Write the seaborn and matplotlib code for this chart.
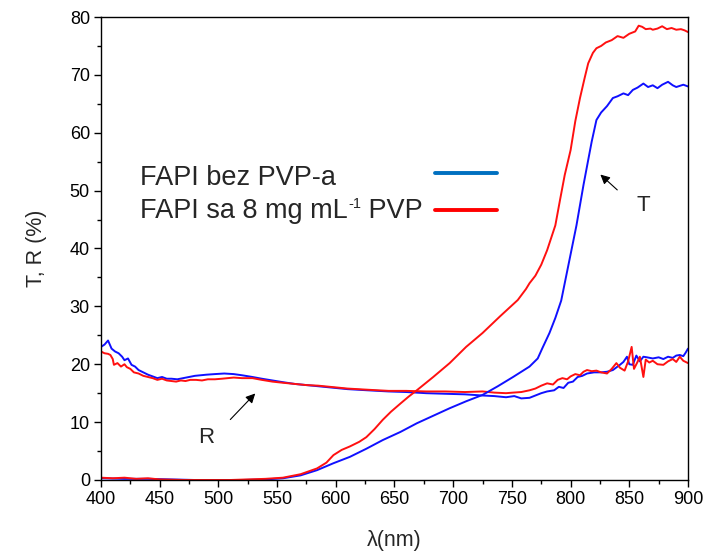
import numpy as np
import pandas as pd
import seaborn as sns
import matplotlib
matplotlib.use("Agg")
import matplotlib.pyplot as plt
from matplotlib.lines import Line2D
from matplotlib.ticker import MultipleLocator

# ---------------- data ----------------
wl_T_blue = [400, 420, 440, 460, 480, 500, 520, 540, 555, 570, 584, 598, 612, 626, 640, 655,
             669, 683, 697, 711, 725, 738, 751, 765, 772, 776, 782, 787, 792, 798, 805, 811,
             815, 818, 822, 826, 831, 836, 840, 845, 849, 853, 857, 862, 866, 870, 874, 878,
             883, 887, 890, 893, 896, 900]
T_blue = [0.3, 0.2, 0.2, 0.1, 0.0, 0.0, 0.0, 0.1, 0.3, 0.8, 1.7, 2.9, 4.0, 5.4, 6.9, 8.3,
          9.8, 11.1, 12.4, 13.6, 14.7, 16.2, 17.8, 19.6, 21.0, 22.8, 25.4, 28.0, 31.0, 37.0, 44.0, 51.0,
          55.3, 58.5, 62.2, 63.5, 64.6, 66.0, 66.3, 66.8, 66.5, 67.4, 67.8, 68.5, 67.9, 68.2, 67.7, 68.3,
          68.8, 68.2, 67.9, 68.1, 68.3, 68.0]

wl_T_red = [400, 410, 420, 430, 440, 450, 470, 490, 510, 525, 540, 555, 570, 584, 592, 598,
            605, 612, 620, 626, 633, 640, 647, 655, 662, 669, 683, 697, 711, 725, 740, 755,
            762, 765, 770, 775, 780, 787, 791, 795, 800, 804, 808, 812, 815, 819, 822, 826,
            830, 835, 840, 845, 850, 855, 858, 861, 864, 868, 870, 874, 878, 882, 886, 890,
            894, 897, 900]
T_red = [0.4, 0.3, 0.4, 0.2, 0.3, 0.1, 0.0, 0.0, 0.0, 0.1, 0.2, 0.4, 1.0, 2.0, 3.0, 4.3,
         5.2, 5.8, 6.6, 7.4, 8.8, 10.4, 11.8, 13.2, 14.4, 15.5, 17.8, 20.2, 23.0, 25.4, 28.3, 31.1,
         33.0, 34.0, 35.3, 37.2, 39.7, 44.0, 48.4, 52.7, 57.0, 62.0, 66.0, 69.5, 72.0, 73.8, 74.6, 75.0,
         75.6, 76.0, 76.7, 76.4, 77.1, 77.5, 78.5, 78.3, 77.9, 78.0, 77.8, 78.0, 78.4, 77.9, 78.1, 77.8,
         77.9, 77.7, 77.4]

wl_R_blue = [400, 403, 406, 409, 412, 415, 418, 420, 423, 426, 429, 432, 436, 440, 444, 448,
             452, 456, 460, 465, 470, 475, 480, 485, 490, 497, 505, 513, 520, 529, 537, 546,
             555, 565, 575, 585, 595, 610, 627, 645, 660, 677, 693, 710, 725, 735, 745, 752,
             758, 765, 770, 775, 780, 786, 790, 794, 798, 802, 806, 810, 814, 820, 826, 831,
             836, 842, 845, 848, 850, 853, 856, 859, 862, 865, 870, 875, 879, 883, 887, 890,
             893, 896, 898, 900]
R_blue = [23.0, 23.4, 24.1, 22.7, 22.2, 21.9, 21.3, 20.7, 21.0, 19.9, 19.6, 19.0, 18.6, 18.2, 17.9, 17.6,
          17.8, 17.5, 17.5, 17.4, 17.6, 17.8, 18.0, 18.1, 18.2, 18.3, 18.4, 18.3, 18.1, 17.8, 17.5, 17.2,
          16.9, 16.6, 16.4, 16.2, 16.0, 15.7, 15.5, 15.3, 15.2, 15.0, 14.9, 14.8, 14.6, 14.5, 14.3, 14.5,
          14.1, 14.2, 14.6, 15.0, 15.3, 15.5, 16.1, 15.9, 16.8, 17.0, 17.8, 18.0, 18.4, 18.6, 18.6, 18.7,
          19.0, 19.9, 20.4, 21.3, 20.0, 19.9, 21.5, 20.5, 21.3, 21.2, 21.0, 21.2, 20.9, 21.3, 21.1, 21.5,
          21.6, 21.4, 22.0, 22.7]

wl_R_red = [400, 403, 406, 408, 410, 411, 414, 417, 420, 422, 425, 428, 432, 436, 440, 444,
            448, 452, 456, 460, 464, 468, 472, 476, 481, 486, 491, 497, 503, 508, 513, 520,
            529, 537, 546, 555, 565, 575, 585, 595, 610, 627, 645, 660, 677, 693, 710, 725,
            735, 745, 751, 758, 765, 770, 775, 780, 785, 789, 793, 797, 800, 804, 808, 811,
            814, 818, 822, 826, 831, 835, 839, 842, 846, 849, 852, 854, 857, 859, 862, 864,
            867, 870, 874, 879, 883, 887, 890, 893, 896, 900]
R_red = [22.2, 21.9, 21.8, 21.6, 20.9, 19.9, 20.2, 19.6, 20.0, 19.5, 19.2, 18.6, 18.4, 18.0, 17.8, 17.6,
         17.3, 17.5, 17.2, 17.1, 17.0, 17.2, 17.1, 17.3, 17.3, 17.2, 17.4, 17.4, 17.5, 17.6, 17.7, 17.6,
         17.6, 17.3, 17.0, 16.8, 16.6, 16.4, 16.3, 16.1, 15.8, 15.6, 15.4, 15.4, 15.3, 15.3, 15.2, 15.3,
         15.1, 15.0, 15.1, 15.2, 15.5, 15.8, 16.3, 16.7, 16.5, 17.3, 17.6, 17.4, 17.9, 18.3, 18.1, 18.7,
         19.0, 18.8, 18.9, 18.6, 18.4, 19.2, 20.2, 19.4, 18.9, 20.5, 23.0, 19.2, 20.4, 21.3, 17.8, 20.8,
         20.3, 20.6, 20.0, 19.9, 20.5, 20.9, 20.4, 21.3, 20.6, 20.2]

legend_label_1 = "FAPI bez PVP-a"
legend_label_2 = ("FAPI sa 8 mg mL", "-1", " PVP")
legend_colors = ["#0070C0", "#FF0000"]
x_ticks = [400, 450, 500, 550, 600, 650, 700, 750, 800, 850, 900]
y_ticks = [0, 10, 20, 30, 40, 50, 60, 70, 80]

# ---------------- style ----------------
sns.set_theme(style="ticks")
plt.rcParams["font.family"] = ["Liberation Sans", "DejaVu Sans"]
plt.rcParams["axes.edgecolor"] = "black"
plt.rcParams["axes.linewidth"] = 1.0
plt.rcParams["xtick.color"] = "black"
plt.rcParams["ytick.color"] = "black"

W, H = 705, 554
fig = plt.figure(figsize=(W / 100, H / 100), dpi=100)
ax = fig.add_axes([101 / W, 1 - 480 / H, 587 / W, 463 / H])

blue = "#1010ff"
red = "#ff1010"
lw = 1.4
sns.lineplot(x=wl_R_blue, y=R_blue, color=blue, lw=lw, ax=ax, estimator=None, sort=False)
sns.lineplot(x=wl_R_red, y=R_red, color=red, lw=lw, ax=ax, estimator=None, sort=False)
sns.lineplot(x=wl_T_blue, y=T_blue, color=blue, lw=lw, ax=ax, estimator=None, sort=False)
sns.lineplot(x=wl_T_red, y=T_red, color=red, lw=lw, ax=ax, estimator=None, sort=False)

ax.set_xlim(400, 900)
ax.set_ylim(0, 80)
ax.set_xticks(x_ticks)
ax.set_yticks(y_ticks)
ax.xaxis.set_minor_locator(MultipleLocator(25))
ax.yaxis.set_minor_locator(MultipleLocator(5))
ax.tick_params(which="major", direction="out", length=5, width=1.0, labelsize=13, pad=3)
ax.tick_params(which="minor", direction="out", length=3, width=1.0)
ax.tick_params(top=False, right=False, which="both")
for s in ax.spines.values():
    s.set_visible(True)
    s.set_color("black")

ax.set_xlabel("λ(nm)", fontsize=15.5, labelpad=16)
ax.set_ylabel("T, R (%)", fontsize=15.5, labelpad=16)

# annotations
ax.annotate("", xy=(823.6, 53.1), xytext=(841.5, 49.8),
            arrowprops=dict(arrowstyle="-|>", color="black", lw=0.8, mutation_scale=14))
ax.text(862, 47.5, "T", fontsize=16, ha="center", va="center")
ax.annotate("", xy=(533, 15.3), xytext=(508.5, 10.1),
            arrowprops=dict(arrowstyle="-|>", color="black", lw=0.8, mutation_scale=14))
ax.text(490, 7.4, "R", fontsize=16, ha="center", va="center")

# legend: labels left-aligned, sample lines aligned on the right
fs_leg = 19.5
fig.text(140 / W, 1 - 185 / H, legend_label_1, fontsize=fs_leg, ha="left", va="baseline")
t1 = fig.text(140 / W, 1 - 218 / H, legend_label_2[0], fontsize=fs_leg, ha="left", va="baseline")
t2 = fig.add_artist(plt.Annotation(legend_label_2[1], xy=(1, 0), xycoords=t1,
                                   xytext=(0.5, 11.5), textcoords="offset points",
                                   fontsize=10.5, ha="left", va="baseline"))
t3 = fig.add_artist(plt.Annotation(legend_label_2[2], xy=(1, 0), xycoords=(t2, t1),
                                   fontsize=fs_leg, ha="left", va="bottom"))
for col, yl in zip(legend_colors, [173, 210]):
    fig.add_artist(Line2D([435 / W, 497 / W], [1 - yl / H, 1 - yl / H],
                          transform=fig.transFigure, color=col, lw=2.8))

fig.savefig("out.png", dpi=100)
